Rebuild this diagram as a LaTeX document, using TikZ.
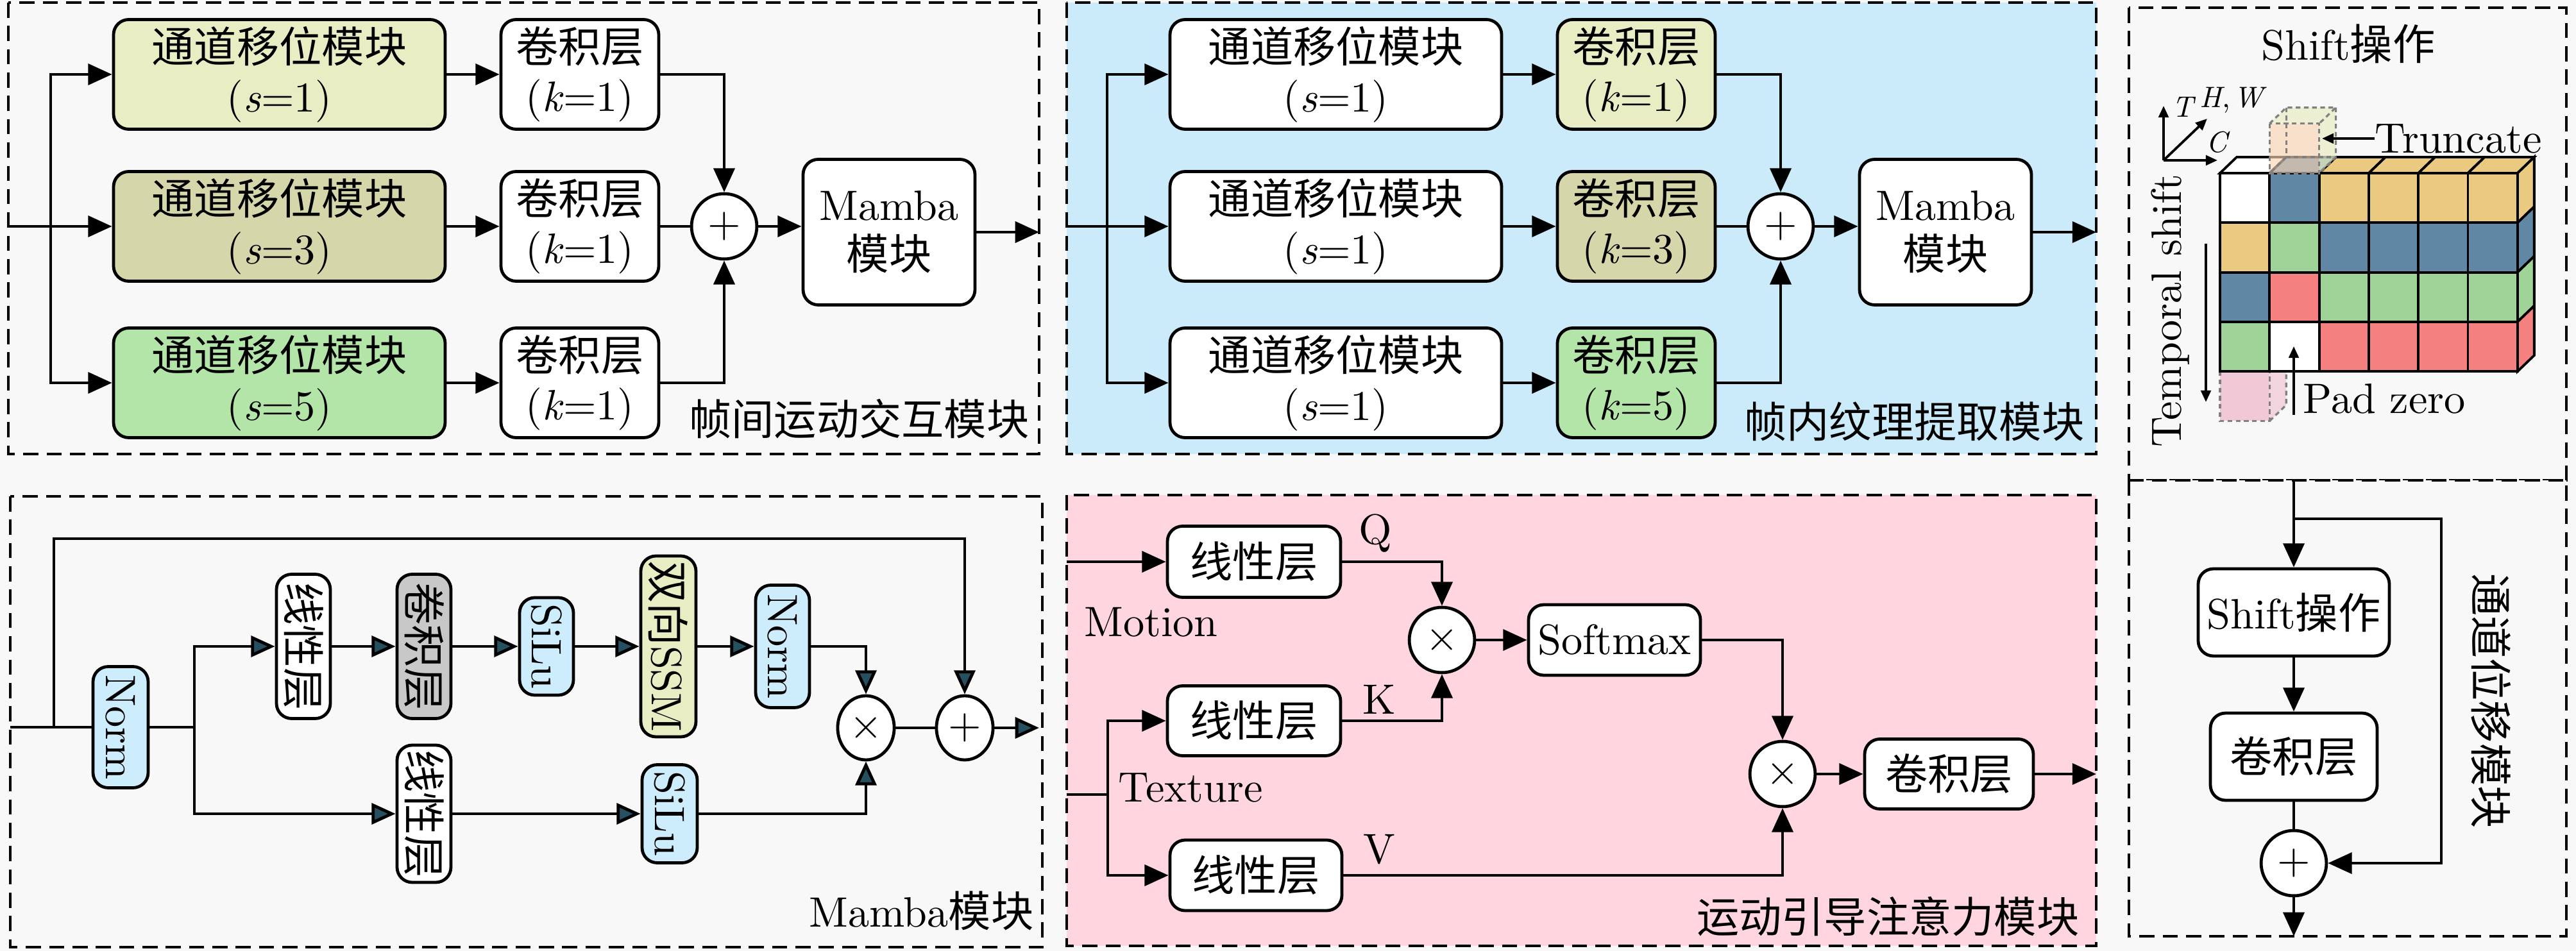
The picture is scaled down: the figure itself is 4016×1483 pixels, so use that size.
\documentclass[tikz,border=0pt]{standalone}
\usepackage{fontspec}
\usepackage{graphicx}
\setmainfont{lmroman10-regular.otf}[ItalicFont=lmroman10-italic.otf, BoldFont=lmroman10-bold.otf]
\newfontfamily\zhfont{Noto Sans CJK SC}
\usetikzlibrary{arrows.meta,shapes.geometric}
\newcommand\zht[1]{{\zhfont #1}}
\newcommand\myfz{\fontsize{20.74}{24}\selectfont}
\newcommand\mysmall{\fontsize{14.4}{17}\selectfont}
\definecolor{bgc}{RGB}{248,248,248}
\definecolor{cblue}{RGB}{203,234,250}
\definecolor{cpink}{RGB}{255,214,224}
\definecolor{cyg}{RGB}{232,237,196}
\definecolor{colv}{RGB}{213,214,170}
\definecolor{cgr}{RGB}{180,229,168}
\definecolor{clb}{RGB}{205,236,252}
\definecolor{cgray}{RGB}{200,200,200}
\definecolor{tealc}{RGB}{38,80,96}
\definecolor{cbo}{RGB}{234,201,128}
\definecolor{cbb}{RGB}{96,135,163}
\definecolor{cbg}{RGB}{160,211,152}
\definecolor{cbr}{RGB}{244,128,128}
\definecolor{cpeach}{RGB}{250,212,180}
\definecolor{cpad}{RGB}{238,188,206}
\begin{document}
\begin{tikzpicture}[x=0.011cm,y=-0.011cm,
  blk/.style={draw, line width=1.5pt, rounded corners=0.26cm, align=center, inner sep=2pt, font=\myfz, fill=white},
  sz/.style 2 args={minimum width={#1*0.011cm}, minimum height={#2*0.011cm}},
  conn/.style={line width=1.5pt},
  conna/.style={line width=1.5pt, -{Triangle[length=0.41cm,width=0.36cm]}},
  connt/.style={line width=1.5pt, -{Triangle[length=0.41cm,width=0.36cm,fill=tealc]}},
  opc/.style={draw, circle, line width=1.5pt, fill=white, minimum size=1.12cm, inner sep=0pt, font=\myfz},
  ope/.style={draw, ellipse, line width=1.5pt, fill=white, minimum width=0.97cm, minimum height=1.1cm, inner sep=0pt, font=\myfz},
  pnl/.style={line width=1.2pt, dash pattern=on 0.26cm off 0.14cm},
  lbl/.style={font=\myfz, inner sep=0pt},
  cubeln/.style={draw=black, line width=1.2pt},
  ghost/.style={draw=gray, line width=1pt, dash pattern=on 0.08cm off 0.06cm},
  smarr/.style={line width=1.2pt, -{Triangle[length=0.2cm,width=0.17cm]}},
]
\fill[bgc] (0,0) rectangle (4016,1483);
\useasboundingbox (0,0) rectangle (4016,1483);

% panels
\draw[pnl, fill=bgc] (13,4) rectangle (1620,708);
\draw[pnl, fill=cblue] (1663,4) rectangle (3268,708);
\draw[pnl, fill=bgc] (3319,12) rectangle (4001,749);
\draw[pnl, fill=bgc] (3319,749) rectangle (4001,1460);
\draw[pnl, fill=bgc] (16,774) rectangle (1625,1477);
\draw[pnl, fill=cpink] (1663,772) rectangle (3268,1475);

% ---------- panel 1 ----------
\node[blk, sz={517}{171}, fill=cyg] (a1) at (435.5,116) {\zht{通道移位模块}\\(\textit{s}=1)};
\node[blk, sz={517}{171}, fill=colv] (a2) at (435.5,353) {\zht{通道移位模块}\\(\textit{s}=3)};
\node[blk, sz={517}{171}, fill=cgr] (a3) at (435.5,597) {\zht{通道移位模块}\\(\textit{s}=5)};
\node[blk, sz={246}{171}] (c1) at (904,116) {\zht{卷积层}\\(\textit{k}=1)};
\node[blk, sz={246}{171}] (c2) at (904,353) {\zht{卷积层}\\(\textit{k}=1)};
\node[blk, sz={246}{171}] (c3) at (904,597) {\zht{卷积层}\\(\textit{k}=1)};
\node[opc] (p1) at (1129,353) {+};
\node[blk, sz={268}{227}] (m1) at (1386,362) {Mamba\\\zht{模块}};
\coordinate (i1) at (13,353);
\coordinate (s1) at (79,353);
\coordinate (o1) at (1620,362);
\draw[conna] (i1) -- (a2);
\draw[conna] (s1) |- (a1);
\draw[conna] (s1) |- (a3);
\draw[conna] (a1) -- (c1);
\draw[conna] (a2) -- (c2);
\draw[conna] (a3) -- (c3);
\draw[conna] (c1) -| (p1);
\draw[conn] (c2) -- (p1);
\draw[conna] (c3) -| (p1);
\draw[conna] (p1) -- (p1 -| m1.west);
\draw[conna] (m1) -- (o1);
\node[lbl, anchor=east] (t1) at (1605,653) {\zht{帧间运动交互模块}};

% ---------- panel 2 ----------
\node[blk, sz={517}{171}] (b1) at (2082.5,116) {\zht{通道移位模块}\\(\textit{s}=1)};
\node[blk, sz={517}{171}] (b2) at (2082.5,353) {\zht{通道移位模块}\\(\textit{s}=1)};
\node[blk, sz={517}{171}] (b3) at (2082.5,597) {\zht{通道移位模块}\\(\textit{s}=1)};
\node[blk, sz={246}{171}, fill=cyg] (d1) at (2551,116) {\zht{卷积层}\\(\textit{k}=1)};
\node[blk, sz={246}{171}, fill=colv] (d2) at (2551,353) {\zht{卷积层}\\(\textit{k}=3)};
\node[blk, sz={246}{171}, fill=cgr] (d3) at (2551,597) {\zht{卷积层}\\(\textit{k}=5)};
\node[opc] (p2) at (2776,353) {+};
\node[blk, sz={268}{227}] (m2) at (3033,362) {Mamba\\\zht{模块}};
\coordinate (i2) at (1663,353);
\coordinate (s2) at (1726,353);
\coordinate (o2) at (3268,362);
\draw[conna] (i2) -- (b2);
\draw[conna] (s2) |- (b1);
\draw[conna] (s2) |- (b3);
\draw[conna] (b1) -- (d1);
\draw[conna] (b2) -- (d2);
\draw[conna] (b3) -- (d3);
\draw[conna] (d1) -| (p2);
\draw[conn] (d2) -- (p2);
\draw[conna] (d3) -| (p2);
\draw[conna] (p2) -- (p2 -| m2.west);
\draw[conna] (m2) -- (o2);
\node[lbl, anchor=east] (t2) at (3250,657) {\zht{帧内纹理提取模块}};

% ---------- panel 3 ----------
\node[lbl] (t3) at (3661,68) {Shift\zht{操作}};
\coordinate (ax0) at (3373,250);
\coordinate (axT) at (3373,165);
\coordinate (axC) at (3457,250);
\coordinate (axH) at (3441,185);
\draw[smarr] (ax0) -- (axT);
\draw[smarr] (ax0) -- (axC);
\draw[smarr] (ax0) -- (axH);
\node[font=\mysmall, inner sep=0pt] (lT) at (3405,167) {\textit{T}};
\node[font=\mysmall, inner sep=0pt] (lH) at (3482,156) {\textit{H},\kern0.12em\textit{W}};
\node[font=\mysmall, inner sep=0pt] (lC) at (3458,222) {\textit{C}};
% pad cube (behind)
\fill[cpad, opacity=0.6] (3538.3,656.5) -- (3564.3,631.5) -- (3564.3,554.2) -- (3538.3,579.2) -- cycle;
\draw[ghost] (3538.3,656.5) -- (3564.3,631.5) -- (3564.3,579.2);
\fill[cpad, opacity=0.8] (3461,579.2) rectangle (3538.3,656.5);
\draw[ghost] (3461,579.2) rectangle (3538.3,656.5);
% block: top faces
\foreach \i/\c in {0/white,1/cbb,2/cbo,3/cbo,4/cbo,5/cbo}
  \filldraw[cubeln, fill=\c] ({3461+\i*77.3},270) -- ++(77.3,0) -- ++(26,-25) -- ++(-77.3,0) -- cycle;
% right faces
\foreach \j/\c in {0/cbo,1/cbb,2/cbg,3/cbr}
  \filldraw[cubeln, fill=\c] ({3461+6*77.3},{270+\j*77.3}) -- ++(26,-25) -- ++(0,77.3) -- ++(-26,25) -- cycle;
% front faces
\foreach \i/\j/\c in {0/0/white,1/0/cbb,2/0/cbo,3/0/cbo,4/0/cbo,5/0/cbo,
                      0/1/cbo,1/1/cbg,2/1/cbb,3/1/cbb,4/1/cbb,5/1/cbb,
                      0/2/cbb,1/2/cbr,2/2/cbg,3/2/cbg,4/2/cbg,5/2/cbg,
                      0/3/cbg,1/3/white,2/3/cbr,3/3/cbr,4/3/cbr,5/3/cbr}
  \filldraw[cubeln, fill=\c] ({3461+\i*77.3},{270+\j*77.3}) rectangle ++(77.3,77.3);
% truncate cube (ghost)
\fill[cyg, opacity=0.75] (3538.3,192.7) -- (3615.6,192.7) -- (3641.6,167.7) -- (3564.3,167.7) -- cycle;
\fill[cyg, opacity=0.75] (3615.6,192.7) -- (3641.6,167.7) -- (3641.6,245) -- (3615.6,270) -- cycle;
\fill[cpeach, opacity=0.65] (3538.3,192.7) rectangle (3615.6,270);
\draw[ghost] (3538.3,192.7) rectangle (3615.6,270);
\draw[ghost] (3538.3,192.7) -- (3564.3,167.7) -- (3641.6,167.7) -- (3615.6,192.7);
\draw[ghost] (3641.6,167.7) -- (3641.6,245) -- (3615.6,270);
\draw[ghost] (3564.3,167.7) -- (3564.3,245) -- (3641.6,245);
\draw[ghost] (3564.3,245) -- (3538.3,270);
\node[lbl, anchor=west] (tr) at (3702,216) {Truncate};
\coordinate (trb) at (3620,216);
\draw[smarr] (tr.west) -- (trb);
\node[lbl, anchor=west] (pz) at (3590,622) {Pad zero};
\coordinate (pza) at (3576,647);
\coordinate (pzb) at (3576,540);
\draw[smarr] (pza) -- (pzb);
\node[lbl, rotate=90] (ts) at (3384,485) {Temporal shift};
\coordinate (tsa) at (3439,380);
\coordinate (tsb) at (3439,627);
\draw[smarr] (tsa) -- (tsb);

% ---------- panel 4 ----------
\coordinate (i4) at (16,1134);
\coordinate (k4a) at (84,1134);
\coordinate (k4b) at (84,840);
\coordinate (s4) at (303,1134);
\coordinate (o4) at (1620,1135);
\node[blk, sz={86}{189}, fill=clb] (n4) at (188,1134) {\rotatebox{-90}{Norm}};
\node[blk, sz={84}{225}] (l4a) at (473,1008) {\rotatebox{-90}{\zht{线性层}}};
\node[blk, sz={84}{225}, fill=cgray] (k4) at (661,1008) {\rotatebox{-90}{\zht{卷积层}}};
\node[blk, sz={84}{152}, fill=clb] (si4a) at (852,1008) {\rotatebox{-90}{SiLu}};
\node[blk, sz={86}{282}, fill=cyg] (ssm) at (1042,1008) {\rotatebox{-90}{\zht{双向}SSM}};
\node[blk, sz={84}{191}, fill=clb] (nb4) at (1220,1008) {\rotatebox{-90}{Norm}};
\node[ope] (x4) at (1350,1135) {×};
\node[ope] (pl4) at (1504,1135) {+};
\node[blk, sz={84}{214}] (l4b) at (661,1269) {\rotatebox{-90}{\zht{线性层}}};
\node[blk, sz={86}{153}, fill=clb] (si4b) at (1044,1269) {\rotatebox{-90}{SiLu}};
\draw[conn] (i4) -- (n4);
\draw[conn] (n4) -- (s4);
\draw[connt] (s4) |- (l4a);
\draw[connt] (l4a) -- (k4);
\draw[connt] (k4) -- (si4a);
\draw[connt] (si4a) -- (ssm);
\draw[connt] (ssm) -- (nb4);
\draw[connt] (nb4) -| (x4);
\draw[connt] (s4) |- (l4b);
\draw[connt] (l4b) -- (si4b);
\draw[connt] (si4b) -| (x4);
\draw[conn] (x4) -- (pl4);
\draw[connt] (pl4) -- (o4);
\draw[connt] (k4a) -- (k4b) -| (pl4);
\node[lbl, anchor=east] (t4) at (1612,1420) {Mamba\zht{模块}};

% ---------- panel 5 ----------
\coordinate (i5a) at (1663,876);
\coordinate (i5b) at (1663,1239);
\coordinate (s5) at (1727,1239);
\coordinate (o5) at (3268,1207);
\node[blk, sz={270}{111}] (lq) at (1955,876) {\zht{线性层}};
\node[blk, sz={270}{109}] (lk) at (1955,1124) {\zht{线性层}};
\node[blk, sz={268}{110}] (lv) at (1958,1365) {\zht{线性层}};
\node[lbl, anchor=west] (mo) at (1690,970) {Motion};
\node[lbl, anchor=west] (tx) at (1743,1228) {Texture};
\node[lbl] (q) at (2144,832) {Q};
\node[lbl] (k) at (2150,1091) {K};
\node[lbl] (v) at (2150,1325) {V};
\node[opc] (x5a) at (2248,998) {×};
\node[blk, sz={268}{110}] (sm) at (2517,998) {Softmax};
\node[opc] (x5b) at (2779,1207) {×};
\node[blk, sz={263}{109}] (cv5) at (3038.5,1207) {\zht{卷积层}};
\draw[conna] (i5a) -- (lq);
\draw[conn] (i5b) -- (s5);
\draw[conna] (s5) |- (lk);
\draw[conna] (s5) |- (lv);
\draw[conna] (lq) -| (x5a);
\draw[conna] (lk) -| (x5a);
\draw[conna] (x5a) -- (sm);
\draw[conna] (sm) -| (x5b);
\draw[conna] (lv) -| (x5b);
\draw[conna] (x5b) -- (cv5);
\draw[conna] (cv5) -- (o5);
\node[lbl, anchor=east] (t5) at (3242,1429) {\zht{运动引导注意力模块}};

% ---------- panel 6 ----------
\coordinate (i6) at (3576,749);
\coordinate (b6) at (3576,809);
\coordinate (b6r) at (3806,809);
\coordinate (o6) at (3576,1460);
\node[blk, sz={298}{136}] (sh6) at (3576,955) {Shift\zht{操作}};
\node[blk, sz={260}{136}] (cv6) at (3576,1180) {\zht{卷积层}};
\node[opc] (p6) at (3576,1346) {+};
\draw[conna] (i6) -- (sh6);
\draw[conna] (sh6) -- (cv6);
\draw[conn] (cv6) -- (p6);
\draw[conna] (b6) -- (b6r) |- (p6);
\draw[conna] (p6) -- (o6);
\node[lbl, rotate=-90] (t6) at (3884,1093) {\zht{通道位移模块}};
\end{tikzpicture}
\end{document}
